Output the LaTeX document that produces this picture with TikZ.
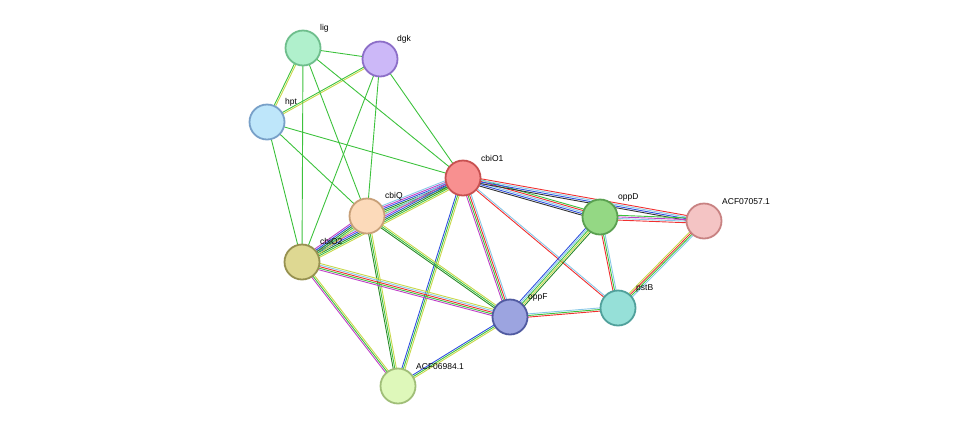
\documentclass[tikz,border=0pt]{standalone}
\usepackage{fontspec}
\setmainfont{Liberation Sans}
\usetikzlibrary{calc,backgrounds}
\definecolor{tm}{HTML}{3DC23D}
\definecolor{ye}{HTML}{C8D84A}
\definecolor{bk}{HTML}{333333}
\definecolor{bl}{HTML}{3050E0}
\definecolor{rd}{HTML}{F03030}
\definecolor{pu}{HTML}{C040C8}
\definecolor{lb}{HTML}{88C8E8}
\definecolor{dg}{HTML}{2A8A2A}
\tikzset{
  prot/.style={circle, minimum size=35pt, inner sep=0pt, line width=1.8pt},
  lab/.style={font=\fontsize{8.5}{10}\selectfont, anchor=south west, inner sep=1pt},
}
% n-colour link between two proteins
\newcommand\linkab[4]{%
  \foreach \c [count=\i] in {#4}{%
    \pgfmathsetmacro\off{(\i-(#3+1)/2)*1.6}
    \draw[\c, line width=0.9pt]
      ($(#1)!\off pt!90:(#2)$) -- ($(#2)!\off pt!-90:(#1)$);
  }}
\begin{document}
\begin{tikzpicture}[x=1pt,y=-1pt]
  \useasboundingbox (0,0) rectangle (976,432);
  \node[prot, fill={rgb,255:red,176;green,240;blue,204}, draw={rgb,255:red,110;green,190;blue,140}] (lig) at (303,48) {};
  \node[prot, fill={rgb,255:red,204;green,184;blue,248}, draw={rgb,255:red,140;green,110;blue,200}] (dgk) at (380,59) {};
  \node[prot, fill={rgb,255:red,190;green,230;blue,250}, draw={rgb,255:red,120;green,160;blue,200}] (hpt) at (267,122) {};
  \node[prot, fill={rgb,255:red,248;green,144;blue,144}, draw={rgb,255:red,200;green,80;blue,80}] (cbiO1) at (463,178) {};
  \node[prot, fill={rgb,255:red,252;green,218;blue,186}, draw={rgb,255:red,200;green,160;blue,120}] (cbiQ) at (367,216) {};
  \node[prot, fill={rgb,255:red,222;green,216;blue,146}, draw={rgb,255:red,150;green,145;blue,80}] (cbiO2) at (302,262) {};
  \node[prot, fill={rgb,255:red,148;green,216;blue,132}, draw={rgb,255:red,90;green,160;blue,80}] (oppD) at (600,217) {};
  \node[prot, fill={rgb,255:red,244;green,196;blue,196}, draw={rgb,255:red,200;green,130;blue,130}] (ACF07057) at (704,221) {};
  \node[prot, fill={rgb,255:red,150;green,224;blue,216}, draw={rgb,255:red,80;green,160;blue,155}] (pstB) at (618,308) {};
  \node[prot, fill={rgb,255:red,156;green,164;blue,224}, draw={rgb,255:red,80;green,90;blue,160}] (oppF) at (510,317) {};
  \node[prot, fill={rgb,255:red,222;green,248;blue,186}, draw={rgb,255:red,160;green,190;blue,120}] (ACF06984) at (398,386) {};
  \begin{scope}[on background layer]
    \linkab{lig}{dgk}{1}{tm}
    \linkab{lig}{hpt}{2}{tm,ye}
    \linkab{dgk}{hpt}{2}{tm,ye}
    \foreach \a in {lig,dgk,hpt}
      \foreach \b in {cbiO1,cbiQ,cbiO2}
        {\linkab{\a}{\b}{1}{tm}}
    \linkab{cbiO1}{cbiQ}{6}{lb,pu,bl,dg,tm,ye}
    \linkab{cbiO1}{cbiO2}{6}{lb,pu,bl,dg,tm,ye}
    \linkab{cbiQ}{cbiO2}{5}{pu,bl,dg,tm,ye}
    \linkab{cbiO1}{oppD}{5}{bk,bl,lb,rd,tm}
    \linkab{cbiO1}{ACF07057}{4}{bk,bl,lb,rd}
    \linkab{cbiO1}{pstB}{2}{rd,lb}
    \linkab{cbiO1}{oppF}{4}{pu,tm,rd,lb}
    \linkab{cbiO1}{ACF06984}{3}{bl,tm,ye}
    \linkab{cbiQ}{oppF}{3}{dg,tm,ye}
    \linkab{cbiQ}{ACF06984}{3}{dg,tm,ye}
    \linkab{cbiO2}{oppF}{5}{pu,tm,rd,lb,ye}
    \linkab{cbiO2}{ACF06984}{3}{pu,tm,ye}
    \linkab{oppD}{ACF07057}{4}{rd,lb,pu,tm}
    \linkab{oppD}{pstB}{3}{rd,tm,lb}
    \linkab{oppD}{oppF}{5}{bl,lb,tm,ye,dg}
    \linkab{ACF07057}{pstB}{4}{ye,rd,tm,lb}
    \linkab{oppF}{pstB}{3}{rd,tm,lb}
    \linkab{oppF}{ACF06984}{3}{bl,tm,ye}
  \end{scope}
  \node[lab] (tlig) at (319,33) {lig};
  \node[lab] (tdgk) at (396,44) {dgk};
  \node[lab] (thpt) at (284,107) {hpt};
  \node[lab] (tcbiO1) at (480,163) {cbiO1};
  \node[lab] (tcbiQ) at (384,201) {cbiQ};
  \node[lab] (tcbiO2) at (319,246) {cbiO2};
  \node[lab] (toppD) at (617,202) {oppD};
  \node[lab] (tACF07057) at (721,206) {ACF07057.1};
  \node[lab] (tpstB) at (635,293) {pstB};
  \node[lab] (toppF) at (527,302) {oppF};
  \node[lab] (tACF06984) at (415,371) {ACF06984.1};
\end{tikzpicture}
\end{document}
